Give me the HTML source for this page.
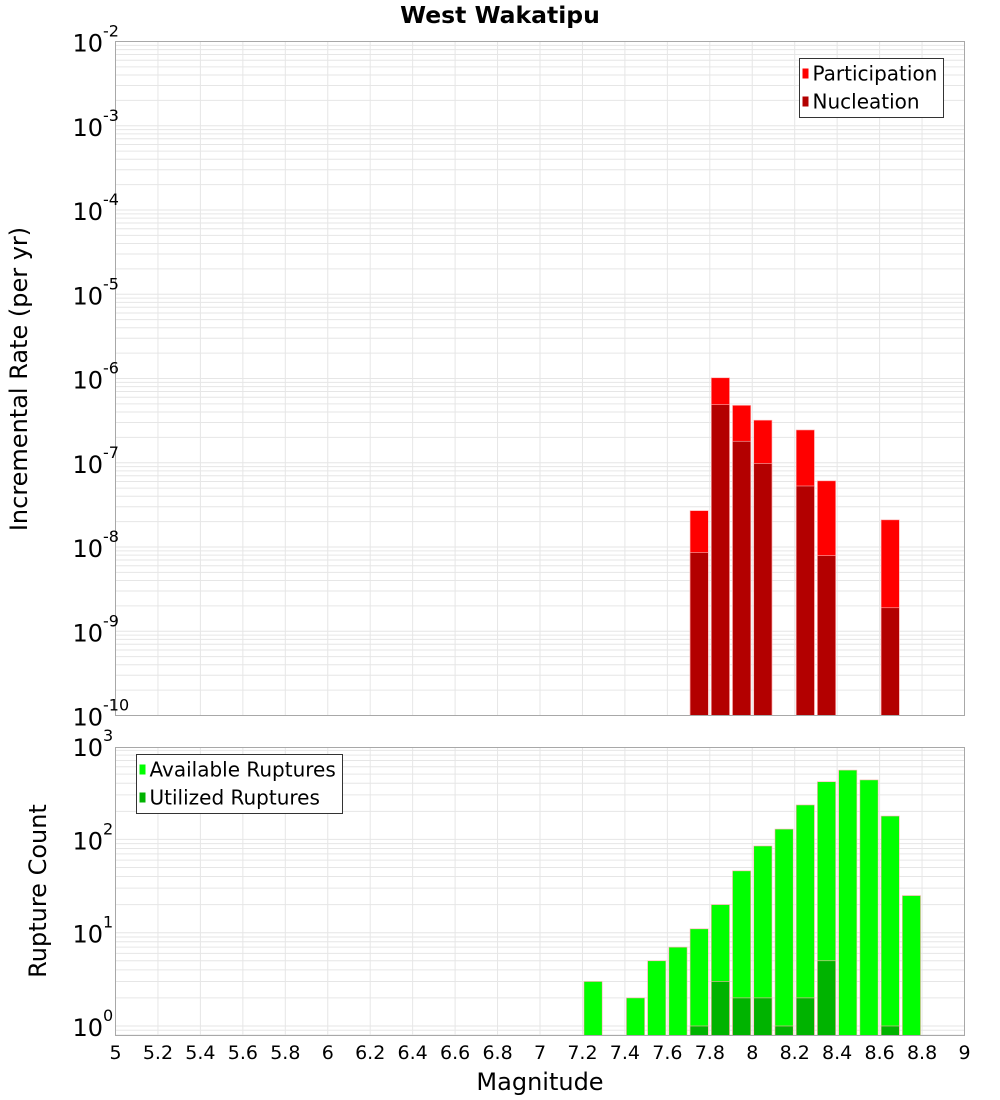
<!DOCTYPE html>
<html><head><meta charset="utf-8"><style>
body{margin:0;background:#fff;}
svg{display:block;font-family:"DejaVu Sans","Liberation Sans",sans-serif;}
</style></head><body>
<svg id="chart" width="1000" height="1100" xmlns="http://www.w3.org/2000/svg">
<text x="500" y="23" text-anchor="middle" font-size="23.5" font-weight="bold">West Wakatipu</text>
<g id="topPlot"></g>
<g id="botPlot"></g>
</svg>
<script>
const rateBins = [7.75, 7.85, 7.95, 8.05, 8.25, 8.35, 8.65];
const participation = [2.7e-8, 1.02e-6, 4.8e-7, 3.2e-7, 2.45e-7, 6.1e-8, 2.1e-8];
const nucleation = [8.6e-9, 4.9e-7, 1.8e-7, 9.8e-8, 5.3e-8, 7.9e-9, 1.9e-9];
const countBins = [7.25, 7.45, 7.55, 7.65, 7.75, 7.85, 7.95, 8.05, 8.15, 8.25, 8.35, 8.45, 8.55, 8.65, 8.75];
const available = [3, 2, 5, 7, 11, 20, 46, 85, 129, 234, 415, 553, 434, 178, 25];
const utilBins = [7.75, 7.85, 7.95, 8.05, 8.15, 8.25, 8.35, 8.65];
const utilized = [1, 3, 2, 2, 1, 2, 5, 1];
const xTicks = [5,5.2,5.4,5.6,5.8,6,6.2,6.4,6.6,6.8,7,7.2,7.4,7.6,7.8,8,8.2,8.4,8.6,8.8,9];
const topExps = [-2,-3,-4,-5,-6,-7,-8,-9,-10];
const botExps = [3,2,1,0];

const NS="http://www.w3.org/2000/svg";
const L=115.5,R=964.5;
const X=m=>L+(m-5)/4*(R-L);
const T={top:41.5,bot:715.5,y:v=>41.5+(-2-Math.log10(v))*84.25};
const B={top:747.5,bot:1035.5,y:v=>1026-Math.log10(v)*93.3};
function mk(p,tag,a){const e=document.createElementNS(NS,tag);for(const k in a)e.setAttribute(k,a[k]);p.appendChild(e);return e;}
const W=0.1*(R-L)/4-3;

function frame(g,P,eMin,eMax){
  const grid=mk(g,'g',{});
  
  
  xTicks.forEach(t=>mk(grid,'line',{x1:X(t),x2:X(t),y1:P.top,y2:P.bot,stroke:'#e6e6e6'}));
  for(let e=eMin;e<eMax;e++)for(let k=1;k<10;k++){const y=P.y(k*Math.pow(10,e));if(y>=P.top&&y<=P.bot)mk(grid,'line',{x1:L,x2:R,y1:y,y2:y,stroke:'#e6e6e6'});}
}
function border(g,P){const r=mk(g,'rect',{x:L,y:P.top,width:R-L,height:P.bot-P.top,fill:'none',stroke:'#a8a8a8'});
}
function ylabels(g,P,exps,val){
  exps.forEach(e=>{const y=P.y(val(e));
    const t=mk(g,'text',{x:103,y:y+10,'text-anchor':'end','font-size':24});
    
    t.textContent='10';
    const s=mk(g,'text',{x:103,y:y-5,'font-size':16});
    
    s.textContent=String(e);});
}
function bars(g,P,bins,vals,col,name){
  bins.forEach((b,i)=>{const y=P.y(vals[i]);
    const r=mk(g,'rect',{x:X(b)-W/2,y:y,width:W,height:P.bot-y,fill:col,stroke:'#ffb0b0','stroke-width':0.6});
    });
}
function legend(g,x,y,w,items){
  const lg=mk(g,'g',{});
  mk(lg,'rect',{x:x,y:y,width:w,height:59,fill:'#fff',stroke:'#333'});
  items.forEach((it,i)=>{
    mk(lg,'rect',{x:x+3,y:y+10+i*28,width:6,height:10,fill:it[1]});
    const t=mk(lg,'text',{x:x+13,y:y+22+i*28,'font-size':20});
    
    t.textContent=it[0];});
}
const gTop=document.getElementById('topPlot'),gBot=document.getElementById('botPlot');
frame(gTop,T,-10,-2);
bars(gTop,T,rateBins,participation,'#ff0000','participation-bar');
bars(gTop,T,rateBins,nucleation,'#b30000','nucleation-bar');
border(gTop,T);
ylabels(gTop,T,topExps,e=>Math.pow(10,e));
legend(gTop,799.5,58.5,144,[['Participation','#ff0000'],['Nucleation','#b30000']]);
frame(gBot,B,-1,3);
bars(gBot,B,countBins,available,'#00ff00','available-bar');
bars(gBot,B,utilBins,utilized,'#00b300','utilized-bar');
border(gBot,B);
ylabels(gBot,B,botExps,e=>Math.pow(10,e));
legend(gBot,136.5,754.5,206,[['Available Ruptures','#00ff00'],['Utilized Ruptures','#00b300']]);
xTicks.forEach(t=>{const e=mk(gBot,'text',{x:X(t),y:1059,'text-anchor':'middle','font-size':19});
  
  e.textContent=String(t);});
const xt=mk(gBot,'text',{x:540,y:1090,'text-anchor':'middle','font-size':24});
xt.textContent='Magnitude';
const y1=mk(gTop,'text',{transform:'translate(27,379) rotate(-90)','text-anchor':'middle','font-size':24});
y1.textContent='Incremental Rate (per yr)';
const y2=mk(gBot,'text',{transform:'translate(46,891) rotate(-90)','text-anchor':'middle','font-size':24});
y2.textContent='Rupture Count';
</script>
</body></html>
